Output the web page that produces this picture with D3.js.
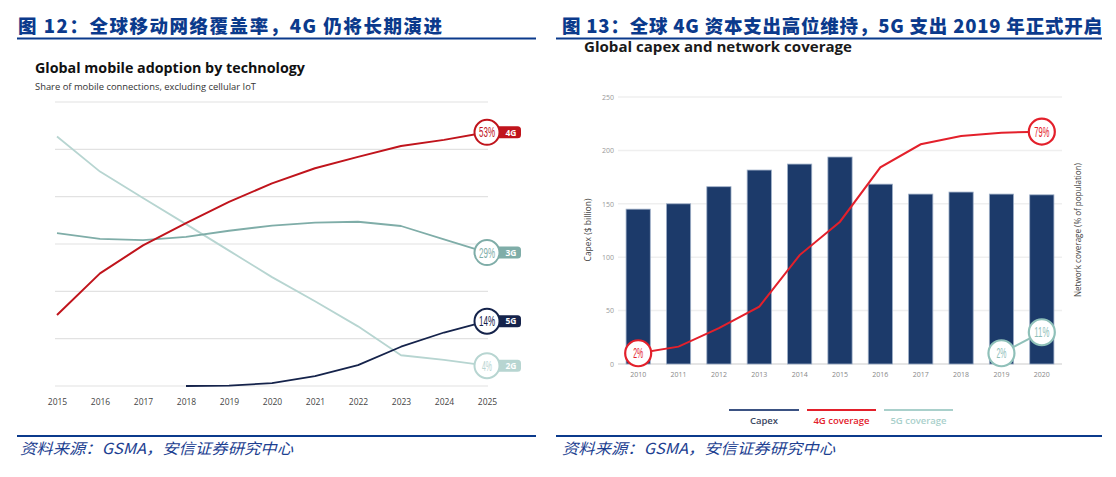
<!DOCTYPE html>
<html><head><meta charset="utf-8">
<script src="https://cdn.jsdelivr.net/npm/d3@7"></script>
<style>
html,body{margin:0;padding:0;background:#fff;}
svg{display:block;}
</style></head>
<body>
<svg id="c" width="1116" height="477"></svg>
<script>
// ---------- Left chart data ----------
const years = [2015,2016,2017,2018,2019,2020,2021,2022,2023,2024,2025];
const s4G = [15,23.8,29.7,34.4,38.9,42.8,46,48.4,50.7,52,53.6];
const s3G = [32.3,31.1,30.8,31.5,32.8,33.9,34.5,34.7,33.8,31,28.2];
const s2G = [52.7,45.3,39.7,34.2,28.6,23.0,17.9,12.6,6.5,5.5,4.3];
const years5G = [2018,2019,2020,2021,2022,2023,2024,2025];
const s5G = [0,0.1,0.6,2.1,4.4,8.3,11.3,13.7];
const endLabels = ["53%","29%","4%","14%"];
const techNames = ["4G","3G","2G","5G"];
const leftGrid = [0,10,20,30,40,50,60];

// ---------- Right chart data ----------
const capexYears = ["2010","2011","2012","2013","2014","2015","2016","2017","2018","2019","2020"];
const capex = [145,150,166,181.6,187.2,193.8,168.4,159.1,161,159.1,158.4];
const cov4G = [2,4.3,10.7,18.2,36.1,47.7,66.6,74.6,77.5,78.6,79];
const cov5GYears = ["2019","2020"];
const cov5G = [2,9.3];
const capexTicks = [0,50,100,150,200,250];
const legendNames = ["Capex","4G coverage","5G coverage"];

const svg = d3.select("#c");
const blue = "#0b3a8c";
const cjk = "'Noto Sans CJK SC', 'Noto Sans', sans-serif";
const lat = "'Open Sans','Noto Sans', 'Liberation Sans', sans-serif";

// ---------- headers and footers ----------
function header(x, y, txt, w){
  svg.append("text").attr("x",x).attr("y",y).text(txt)
    .attr("font-family",cjk).attr("font-weight",900).attr("font-size",18.5)
    .attr("fill",blue).attr("textLength",w).attr("lengthAdjust","spacing");
}
header(18, 33, "图 12：全球移动网络覆盖率，4G 仍将长期演进", 424);
header(562, 33, "图 13：全球 4G 资本支出高位维持，5G 支出 2019 年正式开启", 540);
[[17,536],[556,1102]].forEach(([a,b])=>{
  svg.append("line").attr("x1",a).attr("x2",b).attr("y1",38.5).attr("y2",38.5).attr("stroke",blue).attr("stroke-width",2.2);
  svg.append("line").attr("x1",a).attr("x2",b).attr("y1",436).attr("y2",436).attr("stroke",blue).attr("stroke-width",2.2);
});
function footer(x, w){
  svg.append("text").attr("x",x).attr("y",454).text("资料来源：GSMA，安信证券研究中心")
    .attr("font-family",cjk).attr("font-style","italic").attr("font-size",15)
    .attr("fill","#1d3f91").attr("textLength",w).attr("lengthAdjust","spacingAndGlyphs");
}
footer(20, 273);
footer(562, 273);

// ---------- Left chart ----------
const L = svg.append("g");
L.append("text").attr("x",35).attr("y",73).text("Global mobile adoption by technology")
  .attr("font-family",lat).attr("font-weight","bold").attr("font-size",14).attr("fill","#111")
  .attr("textLength",270).attr("lengthAdjust","spacingAndGlyphs");
L.append("text").attr("x",35).attr("y",90).text("Share of mobile connections, excluding cellular IoT")
  .attr("font-family",lat).attr("font-size",8.5).attr("fill","#333")
  .attr("textLength",221).attr("lengthAdjust","spacingAndGlyphs");

const lx = d3.scaleLinear().domain([2015,2025]).range([57,487]);
const ly = d3.scaleLinear().domain([0,60]).range([386,102]);

L.selectAll("line.g").data(leftGrid).join("line")
  .attr("x1",55).attr("x2",488).attr("y1",d=>ly(d)).attr("y2",d=>ly(d))
  .attr("stroke","#e2e2e2").attr("stroke-width",1.2);

const xAxisL = d3.axisBottom(lx).tickValues(years).tickFormat(d3.format("d")).tickSize(0).tickPadding(0);
const gxl = L.append("g").attr("transform","translate(0,404.5)").call(xAxisL);
gxl.select(".domain").remove();
gxl.selectAll("text").attr("font-family",lat).attr("font-size",8.5).attr("fill","#444").attr("dy",0);

const colsL = {"4G":"#c0141c","3G":"#7fada8","2G":"#b7d5d1","5G":"#15234b"};
const lineL = d3.line().x(d=>lx(d[0])).y(d=>ly(d[1])).curve(d3.curveLinear);
const seriesL = [
  {k:"2G", pts:d3.zip(years,s2G), lab:endLabels[2]},
  {k:"3G", pts:d3.zip(years,s3G), lab:endLabels[1]},
  {k:"5G", pts:d3.zip(years5G,s5G), lab:endLabels[3]},
  {k:"4G", pts:d3.zip(years,s4G), lab:endLabels[0]}
];
seriesL.forEach(s=>{
  L.append("path").attr("d",lineL(s.pts)).attr("fill","none").attr("stroke-linejoin","round")
   .attr("stroke",colsL[s.k]).attr("stroke-width",s.k==="4G"?2:1.8);
});
seriesL.forEach(s=>{
  const last = s.pts[s.pts.length-1];
  const cx = lx(last[0]), cy = ly(last[1]);
  const c = colsL[s.k];
  const g = L.append("g");
  g.append("rect").attr("x",cx+4).attr("y",cy-6).attr("width",30).attr("height",12).attr("rx",3.5).attr("fill",c);
  g.append("text").attr("x",cx+24).attr("y",cy+3.3).attr("text-anchor","middle").text(s.k)
    .attr("font-family",lat).attr("font-weight","bold").attr("font-size",8.5).attr("fill","#fff");
  g.append("circle").attr("cx",cx).attr("cy",cy).attr("r",12.5).attr("fill","#fff").attr("stroke",c).attr("stroke-width",2);
  const t = g.append("text").attr("x",cx).attr("y",cy+5).attr("text-anchor","middle").text(s.lab)
    .attr("font-family","'Liberation Sans', sans-serif").attr("font-size",14).attr("fill",c);
  t.attr("textLength", s.lab.length===3?16:10).attr("lengthAdjust","spacingAndGlyphs");
});

// ---------- Right chart ----------
const R = svg.append("g");
R.append("text").attr("x",584).attr("y",52).text("Global capex and network coverage")
  .attr("font-family",lat).attr("font-weight","bold").attr("font-size",14.5).attr("fill","#1a1a1a")
  .attr("textLength",268).attr("lengthAdjust","spacingAndGlyphs");

const rx = d3.scaleBand().domain(capexYears).range([618,1062]).paddingInner(0.4).paddingOuter(0.2);
const ry = d3.scaleLinear().domain([0,250]).range([364,97]);
const rc = d3.scaleLinear().domain([0,100]).range([359,71.2]);

R.selectAll("line.g").data(capexTicks).join("line")
  .attr("x1",618).attr("x2",1062).attr("y1",d=>ry(d)).attr("y2",d=>ry(d))
  .attr("stroke",d=>d===0?"#dcdcdc":"#efefef").attr("stroke-width",1.5);

const yAxisR = d3.axisLeft(ry).tickValues(capexTicks).tickSize(0).tickPadding(0);
const gyr = R.append("g").attr("transform","translate(614,0)").call(yAxisR);
gyr.select(".domain").remove();
gyr.selectAll("text").attr("font-family",lat).attr("font-size",7).attr("fill","#999");

const xAxisR = d3.axisBottom(rx).tickSize(0).tickPadding(0);
const gxr = R.append("g").attr("transform","translate(0,377)").call(xAxisR);
gxr.select(".domain").remove();
gxr.selectAll("text").attr("font-family",lat).attr("font-size",7).attr("fill","#888").attr("dy",0);

R.selectAll("rect.bar").data(d3.zip(capexYears,capex)).join("rect")
  .attr("x",d=>rx(d[0])).attr("width",rx.bandwidth())
  .attr("y",d=>ry(d[1])).attr("height",d=>ry(0)-ry(d[1]))
  .attr("fill","#1c3a6a").attr("stroke","#9fb0c8").attr("stroke-width",0.8);

R.append("text").attr("transform","translate(591,230) rotate(-90)").attr("text-anchor","middle")
  .text("Capex ($ billion)").attr("font-family",lat).attr("font-size",8.5).attr("fill","#444");
R.append("text").attr("transform","translate(1081,230) rotate(-90)").attr("text-anchor","middle")
  .text("Network coverage (% of population)").attr("font-family",lat).attr("font-size",8.5).attr("fill","#444")
  .attr("textLength",134).attr("lengthAdjust","spacingAndGlyphs");

const red = "#e3202b", teal = "#8fc0b9";
const lineR = d3.line().x(d=>rx(d[0])+rx.bandwidth()/2).y(d=>rc(d[1]));
R.append("path").attr("d",lineR(d3.zip(capexYears,cov4G))).attr("fill","none").attr("stroke",red).attr("stroke-width",2);
R.append("path").attr("d",lineR(d3.zip(cov5GYears,cov5G))).attr("fill","none").attr("stroke",teal).attr("stroke-width",2);

const covLabels = [
  {yr:capexYears[0], v:cov4G[0], t:"2%", c:red},
  {yr:capexYears[10], v:cov4G[10], t:"79%", c:red},
  {yr:cov5GYears[0], v:cov5G[0], t:"2%", c:teal},
  {yr:cov5GYears[1], v:cov5G[1], t:"11%", c:teal}
];
covLabels.forEach(d=>{
  const cx = rx(d.yr)+rx.bandwidth()/2, cy = rc(d.v);
  R.append("circle").attr("cx",cx).attr("cy",cy).attr("r",13).attr("fill","#fff").attr("stroke",d.c).attr("stroke-width",2.2);
  R.append("text").attr("x",cx).attr("y",cy+5).attr("text-anchor","middle").text(d.t)
    .attr("font-family","'Liberation Sans', sans-serif").attr("font-size",14).attr("fill",d.c)
    .attr("textLength",d.t.length===3?15:10).attr("lengthAdjust","spacingAndGlyphs");
});

// legend
const legCols = ["#3b5283", red, "#a9d0cb"];
const legX = [[729,799],[807,876],[884,953]];
legendNames.forEach((n,i)=>{
  R.append("line").attr("x1",legX[i][0]).attr("x2",legX[i][1]).attr("y1",410).attr("y2",410)
    .attr("stroke",legCols[i]).attr("stroke-width",2.2);
  R.append("text").attr("x",(legX[i][0]+legX[i][1])/2).attr("y",424).attr("text-anchor","middle").text(n)
    .attr("font-family",lat).attr("font-weight","600").attr("font-size",9.5).attr("fill",i===0?"#3a4763":legCols[i]);
});
</script>
</body></html>
